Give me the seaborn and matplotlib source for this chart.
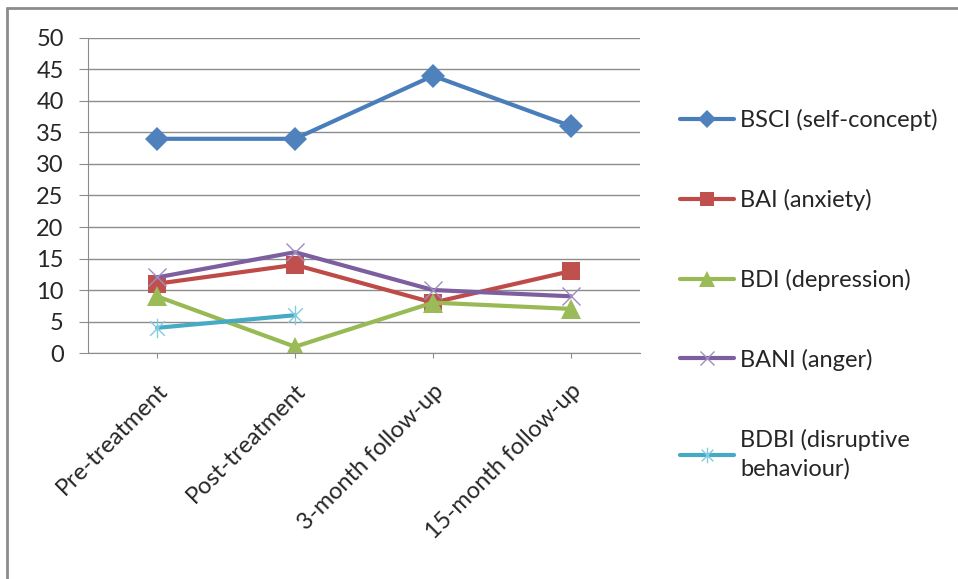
import matplotlib
matplotlib.use("Agg")
import matplotlib.pyplot as plt
from matplotlib.lines import Line2D
from matplotlib.path import Path
import seaborn as sns
import pandas as pd
import numpy as np

# data
timepoints = ["Pre-treatment", "Post-treatment", "3-month follow-up", "15-month follow-up"]
bsci = [34, 34, 44, 36]
bai = [11, 14, 8, 13]
bdi = [9, 1, 8, 7]
bani = [12, 16, 10, 9]
bdbi = [4, 6, np.nan, np.nan]

labels = ["BSCI (self-concept)", "BAI (anxiety)", "BDI (depression)",
          "BANI (anger)", "BDBI (disruptive\nbehaviour)"]
series = [bsci, bai, bdi, bani, bdbi]

colors = ["#4A7EBB", "#BE4B48", "#98B954", "#7D5FA0", "#46AAC5"]
marker_colors = ["#4F81BD", "#C0504D", "#9BBB59", "#A08CC0", "#7FCCE0"]

# asterisk marker: vertical bar plus an x
asterisk = Path([(0, -1), (0, 1), (-0.75, -0.75), (0.75, 0.75), (-0.75, 0.75), (0.75, -0.75)],
                [Path.MOVETO, Path.LINETO, Path.MOVETO, Path.LINETO, Path.MOVETO, Path.LINETO])
markers = ["D", "s", "^", "x", asterisk]
msizes = [12, 13, 14, 13, 14]

rows = []
for lab, vals in zip(labels, series):
    for t, v in zip(timepoints, vals):
        rows.append({"time": t, "score": v, "scale": lab})
df = pd.DataFrame(rows).dropna()

sns.set_style("white")
plt.rcParams["font.family"] = ["Lato", "DejaVu Sans"]
FS = 17

fig = plt.figure(figsize=(9.58, 5.79), dpi=100)
ax = fig.add_axes([0.0919, 0.3903, 0.668 - 0.0919, 0.9344 - 0.3903])

handles = []
for lab, col, mcol, mk, ms in zip(labels, colors, marker_colors, markers, msizes):
    sub = df[df["scale"] == lab]
    thin = mk in ("x",) or isinstance(mk, Path)
    sns.lineplot(data=sub, x="time", y="score", ax=ax, color=col, lw=3,
                 marker=mk, markersize=ms, markeredgewidth=1.0 if thin else 0,
                 markerfacecolor=mcol if not thin else "none",
                 markeredgecolor=mcol, sort=False, legend=False)
    handles.append(Line2D([0], [0], color=col, lw=3, marker=mk, markersize=ms * 0.8,
                          markeredgewidth=1.0 if thin else 0,
                          markerfacecolor=mcol if not thin else "none",
                          markeredgecolor=mcol))

ax.set_xlim(-0.5, 3.5)
ax.set_ylim(0, 50)
ax.set_yticks(range(0, 51, 5))
ax.set_xlabel("")
ax.set_ylabel("")
ax.yaxis.grid(True, color="#8C8C8C", lw=1)
ax.set_axisbelow(True)
for side in ["top", "right"]:
    ax.spines[side].set_visible(False)
ax.spines["left"].set_color("#8C8C8C")
ax.spines["bottom"].set_color("#8C8C8C")
ax.tick_params(axis="y", length=6.5, color="#8C8C8C", labelsize=FS, pad=11, left=True)
ax.tick_params(axis="x", length=3.6, color="#8C8C8C", labelsize=FS, pad=16, bottom=True)
ax.set_xticks(range(len(timepoints)))
ax.set_xticklabels(timepoints, rotation=45, ha="right", rotation_mode="anchor")

leg = fig.legend(handles, labels, loc="upper left", bbox_to_anchor=(668 / 958, 1 - 97 / 579),
                 frameon=False, fontsize=FS, labelspacing=2.45, handlelength=2.3,
                 handletextpad=0.27, borderpad=0)
leg.get_texts()[-1].set_linespacing(1.45)

# outer chart frame (top and left edges)
fig.add_artist(Line2D([7 / 958, 7 / 958], [0, 1 - 8 / 579], color="#8C8C8C", lw=2))
fig.add_artist(Line2D([7 / 958, 1], [1 - 8 / 579, 1 - 8 / 579], color="#8C8C8C", lw=2))

fig.savefig("out.png", dpi=100)
